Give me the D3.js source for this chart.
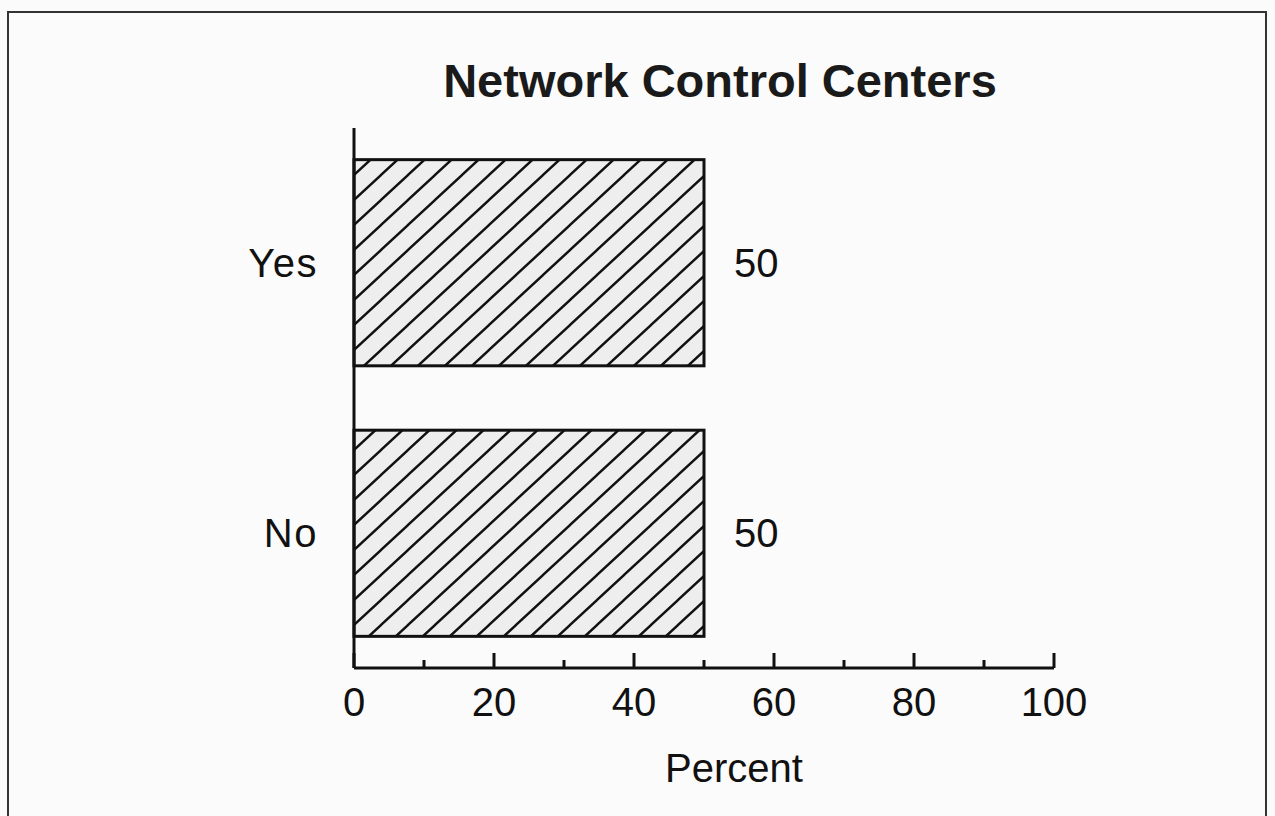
<!DOCTYPE html>
<html>
<head>
<meta charset="utf-8">
<script src="https://cdn.jsdelivr.net/npm/d3@7"></script>
<style>
  html, body { margin: 0; padding: 0; background: #fcfbfb; }
  svg { display: block; font-family: "Liberation Sans", Arial, Helvetica, sans-serif; }
</style>
</head>
<body>
<div id="chart"></div>
<script>
// Chart data
const title = "Network Control Centers";
const categories = ["Yes", "No"];
const values = [50, 50];
const majorTicks = [0, 20, 40, 60, 80, 100];
const minorTicks = [10, 30, 50, 70, 90];
const xLabel = "Percent";

const width = 1275, height = 816;

const svg = d3.select("#chart")
  .append("svg")
  .attr("width", width)
  .attr("height", height);

// Hatch pattern for bars
const hw = 27, hh = 25;
const defs = svg.append("defs");
const pat = defs.append("pattern")
  .attr("id", "hatch")
  .attr("patternUnits", "userSpaceOnUse")
  .attr("x", 354)
  .attr("y", 0)
  .attr("width", hw)
  .attr("height", hh);
pat.append("rect")
  .attr("width", hw)
  .attr("height", hh)
  .attr("fill", "#eeeeee");
pat.append("path")
  .attr("d", `M0,${hh} L${hw},0 M${-hw / 4},${hh / 4} l${hw / 2},${-hh / 2} M${3 * hw / 4},${5 * hh / 4} l${hw / 2},${-hh / 2}`)
  .attr("stroke", "#111")
  .attr("stroke-width", 2.4);

// Outer frame
svg.append("rect")
  .attr("x", 8)
  .attr("y", 12)
  .attr("width", 1258)
  .attr("height", 820)
  .attr("fill", "none")
  .attr("stroke", "#333")
  .attr("stroke-width", 2);

// Scales
const x = d3.scaleLinear()
  .domain([0, 100])
  .range([354, 1054]);

const y = d3.scaleBand()
  .domain(categories)
  .range([128, 668])
  .paddingInner(0.238)
  .paddingOuter(0.117);

const baseY = 668;

// Title
svg.append("text")
  .attr("x", 720)
  .attr("y", 97)
  .attr("text-anchor", "middle")
  .attr("font-size", 47)
  .attr("font-weight", "bold")
  .attr("fill", "#1a1a1a")
  .text(title);

// Bars
svg.append("g")
  .selectAll("rect")
  .data(values)
  .join("rect")
  .attr("x", x(0))
  .attr("y", (d, i) => y(categories[i]))
  .attr("width", d => x(d) - x(0))
  .attr("height", y.bandwidth())
  .attr("fill", "url(#hatch)")
  .attr("stroke", "#111")
  .attr("stroke-width", 3);

// Value labels
svg.append("g")
  .selectAll("text")
  .data(values)
  .join("text")
  .attr("x", d => x(d) + 30)
  .attr("y", (d, i) => y(categories[i]) + y.bandwidth() / 2 + 14)
  .attr("font-size", 40)
  .attr("fill", "#111")
  .text(d => d);

// Category labels
svg.append("g")
  .selectAll("text")
  .data(categories)
  .join("text")
  .attr("x", 318)
  .attr("y", d => y(d) + y.bandwidth() / 2 + 14)
  .attr("text-anchor", "end")
  .attr("font-size", 40)
  .attr("letter-spacing", 1.5)
  .attr("fill", "#111")
  .text(d => d);

// Vertical axis line
svg.append("line")
  .attr("x1", x(0))
  .attr("x2", x(0))
  .attr("y1", 128)
  .attr("y2", baseY)
  .attr("stroke", "#111")
  .attr("stroke-width", 3);

// Horizontal axis
const axis = svg.append("g");
axis.append("line")
  .attr("x1", x(0))
  .attr("x2", x(100))
  .attr("y1", baseY)
  .attr("y2", baseY)
  .attr("stroke", "#111")
  .attr("stroke-width", 3);

axis.selectAll(".major")
  .data(majorTicks)
  .join("line")
  .attr("class", "major")
  .attr("x1", d => x(d))
  .attr("x2", d => x(d))
  .attr("y1", baseY)
  .attr("y2", baseY - 15)
  .attr("stroke", "#111")
  .attr("stroke-width", 3);

axis.selectAll(".minor")
  .data(minorTicks)
  .join("line")
  .attr("class", "minor")
  .attr("x1", d => x(d))
  .attr("x2", d => x(d))
  .attr("y1", baseY)
  .attr("y2", baseY - 8)
  .attr("stroke", "#111")
  .attr("stroke-width", 3);

axis.selectAll(".tick-label")
  .data(majorTicks)
  .join("text")
  .attr("class", "tick-label")
  .attr("x", d => x(d))
  .attr("y", 716)
  .attr("text-anchor", "middle")
  .attr("font-size", 40)
  .attr("fill", "#111")
  .text(d => d);

// Axis title
svg.append("text")
  .attr("x", 734)
  .attr("y", 782)
  .attr("text-anchor", "middle")
  .attr("font-size", 40)
  .attr("fill", "#111")
  .text(xLabel);
</script>
</body>
</html>
